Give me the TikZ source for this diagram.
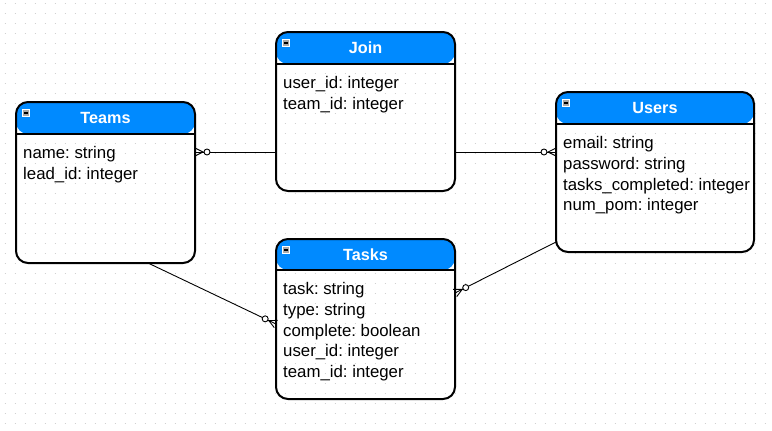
\documentclass[tikz,border=0pt]{standalone}
\usepackage{fontspec}
\setmainfont{Liberation Sans}
\usetikzlibrary{calc}
\frenchspacing
\definecolor{hdr}{RGB}{0,138,255}
\definecolor{griddot}{RGB}{208,208,208}
\definecolor{icongray}{RGB}{170,170,170}
\tikzset{
  entity/.style={draw=black, line width=2pt, rounded corners=12pt, inner sep=0pt, outer sep=0pt, anchor=north west},
  etitle/.style={text=white, font=\bfseries\fontsize{16.2}{19}\selectfont, inner sep=0pt, anchor=base},
  attr/.style={text=black, font=\fontsize{16.8}{20}\selectfont, inner sep=0pt, anchor=base west},
  conn/.style={draw=black, line width=0.9pt},
}
% #1 name, #2 x, #3 y, #4 w, #5 h, #6 header height, #7 title, #8 attribute list
\newcommand\erbox[8]{%
  \node[entity, minimum width=#4pt, minimum height=#5pt,
    path picture={%
      \fill[hdr] (path picture bounding box.north west) rectangle ([yshift=-#6pt]path picture bounding box.north east);
      \draw[line width=2pt] ([yshift=-#6pt]path picture bounding box.north west) -- ([yshift=-#6pt]path picture bounding box.north east);
    }] (#1) at (#2,#3) {};
  \fill[icongray] ($(#1.north west)+(6,7)$) rectangle ($(#1.north west)+(14,15)$);
  \draw[white, line width=0.5pt] ($(#1.north west)+(6.6,7.6)$) rectangle ($(#1.north west)+(13.4,14.4)$);
  \draw[black, line width=1.2pt] ($(#1.north west)+(7.8,11)$) -- ($(#1.north west)+(12.2,11)$);
  \node[etitle] (#1-title) at ($(#1.north)+(0,#6/2+5.7)$) {#7};
  \foreach \t [count=\i] in {#8} {
    \node[attr] (#1-\i) at ($(#1.north west)+(7,#6+24.5+\i*20.8-20.8)$) {\t};
  }
}
\newcommand\crowfoot[2]{% #1 end on box (many side), #2 other end
  \draw[conn] (#1) -- (#2);
  \draw[conn] ($(#1)!4pt!90:(#2)$) -- ($(#1)!8pt!(#2)$) -- ($(#1)!4pt!-90:(#2)$);
  \draw[conn, fill=white] ($(#1)!12pt!(#2)$) circle (3pt);
}
\begin{document}
\begin{tikzpicture}[x=1pt, y=-1pt]
  \useasboundingbox (0,0) rectangle (772,431);
  \fill[white] (0,0) rectangle (772,431);
  \foreach \yy in {3,13,...,423} {
    \draw[griddot, line width=1pt, dash pattern=on 1pt off 9pt] (4.5,\yy) -- (772,\yy);
  }
  \erbox{teams}{16}{102}{179}{161}{32}{Teams}{name: string, lead\_id: integer}
  \erbox{join}{276}{32}{179}{159}{32}{Join}{user\_id: integer, team\_id: integer}
  \erbox{users}{556}{92}{198}{160}{32}{Users}{email: string, password: string, tasks\_completed: integer, num\_pom: integer}
  \erbox{tasks}{276}{239}{179}{160}{31}{Tasks}{task: string, type: string, complete: boolean, user\_id: integer, team\_id: integer}
  \coordinate (c1a) at ($(teams.north east)+(0,50)$);
  \coordinate (c1b) at ($(join.north west)+(0,120)$);
  \coordinate (c2a) at ($(users.north west)+(0,60)$);
  \coordinate (c2b) at ($(join.north east)+(0,120)$);
  \coordinate (c3a) at ($(tasks.north west)+(0,85)$);
  \coordinate (c3b) at ($(teams.south west)+(132,0)$);
  \coordinate (c4a) at ($(tasks.north east)+(0,54)$);
  \coordinate (c4b) at ($(users.south west)+(0,-10)$);
  \crowfoot{c1a}{c1b}
  \crowfoot{c2a}{c2b}
  \crowfoot{c3a}{c3b}
  \crowfoot{c4a}{c4b}
\end{tikzpicture}
\end{document}
